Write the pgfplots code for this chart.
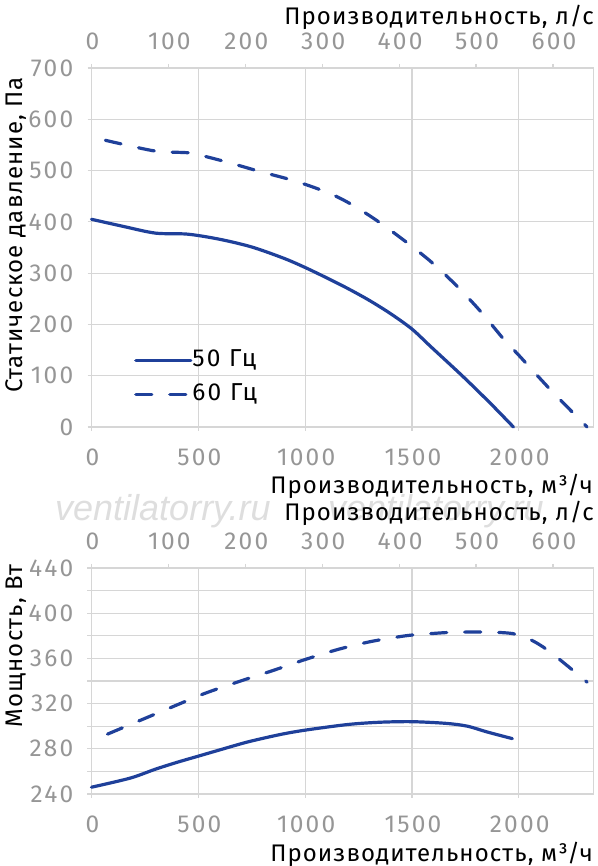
\documentclass[border=0pt]{standalone}
\usepackage{fontspec}
\setmainfont{Fira Sans}
\newfontfamily\labfont[LetterSpace=4.5]{Fira Sans}
\newfontfamily\tickfont[LetterSpace=9]{Fira Sans}
\newfontfamily\wmfont{Liberation Sans}
\usepackage{pgfplots}
\pgfplotsset{compat=1.18}
\definecolor{curve}{RGB}{31,64,154}
\definecolor{gridc}{RGB}{214,214,214}
\definecolor{tickc}{RGB}{150,150,150}
\definecolor{wm}{RGB}{222,222,222}
\newcommand{\lfont}{\labfont\fontsize{24}{28}\selectfont}
\newcommand{\tfont}{\tickfont\fontsize{24.5}{28}\selectfont}
\newcommand{\legfont}{\tickfont\fontsize{24.5}{28}\selectfont}
\pgfplotsset{
  base/.style={
    scale only axis, width=502pt, xmin=0, xmax=2350,
    axis line style={gridc, line width=1.2pt},
    tick style={gridc, line width=1.2pt},
    tick align=outside, major tick length=4pt, minor tick length=4pt,
    /pgf/number format/assume math mode=true,
    /pgf/number format/1000 sep={},
    ticklabel style={font=\tfont, text=tickc, inner sep=0pt},
    clip=false,
  },
  main/.style={
    base,
    grid=major, major grid style={gridc, line width=1.2pt},
    minor grid style={gridc, line width=1.2pt},
    xtick pos=bottom, ytick pos=left,
    xtick={0,500,...,2000},
    xticklabel style={anchor=center, yshift=-26pt, xshift=1pt},
    yticklabel style={anchor=east, xshift=-14pt},
  },
  sec/.style={
    base, xmin=0, xmax=652.78, ymin=0, ymax=1,
    axis x line*=top, axis y line=none,
    xtick={0,100,...,600}, ytick=\empty,
    xticklabel style={anchor=center, yshift=23pt, xshift=1pt},
  },
  c50/.style={curve, line width=3.2pt, smooth, line cap=round},
  c60/.style={curve, line width=3.2pt, smooth, line cap=round, dash pattern=on 16pt off 18pt},
}
\begin{document}
\begin{tikzpicture}
\useasboundingbox (0,0) rectangle (597pt,866pt);
% ---------- top panel ----------
\begin{axis}[main, at={(91.5pt,439pt)}, anchor=south west, height=359pt,
  ymin=0, ymax=700, ytick={0,100,...,700},
  legend style={at={(0.0847,0.217)}, anchor=north west, draw=none, fill=none,
    font=\legfont, row sep=12pt, column sep=0pt, inner sep=0pt,
    nodes={inner sep=0pt, text height=17pt, text depth=5pt}},
  legend cell align=left,
  legend image code/.code={\draw[#1] (0pt,0pt) -- (55pt,0pt);},
  ]
\addplot[c50] coordinates {
 (0,405) (150,391) (300,378) (450,376) (600,366) (750,351) (900,329)
 (1000,311) (1100,291) (1200,270) (1300,247) (1400,221) (1500,191)
 (1590,156) (1740,98) (1870,45) (1975,0)};
\addlegendentry{50 Гц}
\addplot[c60] coordinates {
 (65,559) (150,551) (300,538) (440,535) (480,533) (630,517) (790,498)
 (950,480) (1100,458) (1200,438) (1320,407) (1450,368) (1590,322)
 (1710,275) (1820,226) (1930,171) (2000,140) (2150,72) (2320,0)};
\addlegendentry{60 Гц}
\end{axis}
\begin{axis}[sec, at={(91.5pt,439pt)}, anchor=south west, height=359pt]
\end{axis}
% ---------- bottom panel ----------
\begin{axis}[main, at={(91.5pt,72pt)}, anchor=south west, height=226pt,
  ymin=240, ymax=440, ytick={240,280,...,440}, minor ytick={260,300,...,420},
  grid=both]
\addplot[c50] coordinates {
 (0,246) (180,254) (300,262) (400,268) (500,273.5) (600,279) (730,286)
 (880,292.5) (1000,296.5) (1200,301.5) (1350,303.5) (1500,304) (1660,302.5)
 (1760,300) (1850,295) (1970,289)};
\addplot[c60] coordinates {
 (75,293) (415,320) (530,329) (690,339.5) (845,349) (1000,359) (1155,368)
 (1310,375) (1470,380) (1560,381.5) (1680,383) (1840,383.3) (1970,382)
 (2050,377) (2115,370) (2185,360) (2250,350) (2320,339)};
\end{axis}
\begin{axis}[sec, at={(91.5pt,72pt)}, anchor=south west, height=226pt]
\end{axis}
% ---------- watermark ----------
\node[anchor=base west, inner sep=0pt, text=wm, font=\wmfont\itshape\fontsize{36}{36}\selectfont] at (55pt,345pt) {ventilatorry.ru};
\node[anchor=base west, inner sep=0pt, text=wm, font=\wmfont\itshape\fontsize{36}{36}\selectfont] at (328pt,345pt) {ventilatorry.ru};
% ---------- labels ----------
\node[anchor=base east, inner sep=0pt, font=\lfont] at (594pt,841pt) {Производительность, л/с};
\node[anchor=base east, inner sep=0pt, font=\lfont] at (593pt,372pt) {Производительность, м³/ч};
\node[anchor=base east, inner sep=0pt, font=\lfont] at (594pt,345pt) {Производительность, л/с};
\node[anchor=base east, inner sep=0pt, font=\lfont] at (593pt,5pt) {Производительность, м³/ч};
\node[rotate=90, anchor=base, inner sep=0pt, font=\lfont] at (22pt,631pt) {Статическое давление, Па};
\node[rotate=90, anchor=base, inner sep=0pt, font=\lfont] at (22pt,220pt) {Мощность, Вт};
\end{tikzpicture}
\end{document}
